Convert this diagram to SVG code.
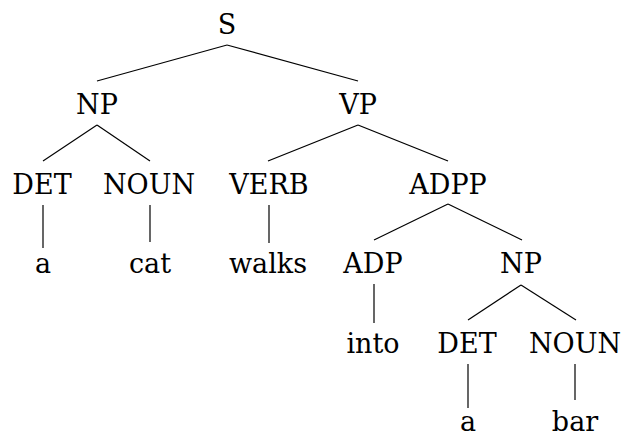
<svg xmlns="http://www.w3.org/2000/svg" width="621" height="434" viewBox="0 0 621 434">
<style>
text{font-family:'DejaVu Serif',serif;font-size:27px;fill:#000;text-anchor:middle}
.e line{stroke:#000;stroke-width:1.2}
</style>
<rect width="621" height="434" fill="#fff"/>
<g class="e" id="connectors">
<line x1="227" y1="45" x2="97" y2="81"/>
<line x1="227" y1="45" x2="358" y2="81"/>
<line x1="97" y1="125" x2="43" y2="161"/>
<line x1="97" y1="125" x2="150" y2="161"/>
<line x1="358" y1="125" x2="268" y2="161"/>
<line x1="358" y1="125" x2="448" y2="161"/>
<line x1="43" y1="205" x2="43" y2="248"/>
<line x1="150" y1="205" x2="150" y2="242"/>
<line x1="269" y1="205" x2="269" y2="243"/>
<line x1="448" y1="204" x2="374" y2="240"/>
<line x1="448" y1="204" x2="522" y2="240"/>
<line x1="374" y1="284" x2="374" y2="323"/>
<line x1="521" y1="285" x2="468" y2="320"/>
<line x1="521" y1="285" x2="576" y2="320"/>
<line x1="468" y1="364" x2="468" y2="408"/>
<line x1="575" y1="364" x2="575" y2="400"/>
</g>
<g id="n-S"><text x="227" y="34">S</text></g>
<g id="n-NP1"><text x="97" y="114">NP</text></g>
<g id="n-VP"><text x="358" y="114">VP</text></g>
<g id="n-DET1"><text x="42" y="194">DET</text></g>
<g id="n-NOUN1"><text x="149" y="194">NOUN</text></g>
<g id="n-VERB"><text x="269" y="194">VERB</text></g>
<g id="n-ADPP"><text x="448" y="194">ADPP</text></g>
<g id="n-a1"><text x="43" y="273">a</text></g>
<g id="n-cat"><text x="150" y="273">cat</text></g>
<g id="n-walks"><text x="268" y="273">walks</text></g>
<g id="n-ADP"><text x="373" y="273">ADP</text></g>
<g id="n-NP2"><text x="521" y="273">NP</text></g>
<g id="n-into"><text x="373" y="353">into</text></g>
<g id="n-DET2"><text x="467" y="353">DET</text></g>
<g id="n-NOUN2"><text x="575" y="353">NOUN</text></g>
<g id="n-a2"><text x="468" y="431">a</text></g>
<g id="n-bar"><text x="575" y="431">bar</text></g>
</svg>
